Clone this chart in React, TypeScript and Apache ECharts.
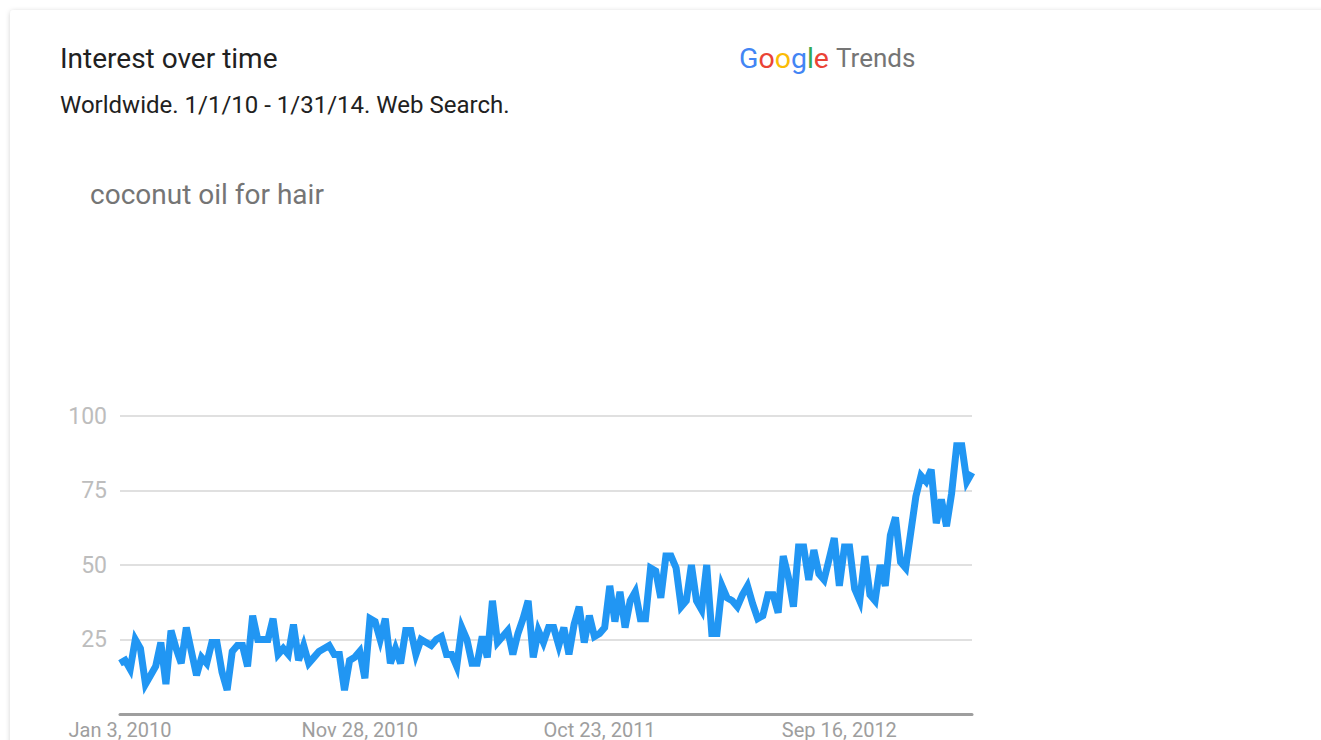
import React, { useEffect, useRef } from "react";
import * as echarts from "echarts";

// Weekly series start (first category) and the axis tick labels shown
const firstWeek = "2010-01-03";
const xTickLabels = ["Jan 3, 2010", "Nov 28, 2010", "Oct 23, 2011", "Sep 16, 2012"];
const yTickValues = [25, 50, 75, 100];

// Interest over time, weekly values
const interest2010 = [
  17, 18, 15, 25, 22, 10, 13, 16, 24, 10,
  28, 22, 17, 29, 21, 13, 19, 17, 24, 24,
  14, 8, 21, 23, 23, 16, 33, 25, 25, 25,
  32, 20, 22, 20, 30, 18, 23, 17, 19, 21,
  22, 23, 20, 20, 8, 18, 19, 21, 12, 32,
];
const interest2011 = [
  31, 25, 32, 17, 22, 17, 28, 28, 20, 25,
  24, 23, 25, 26, 20, 20, 16, 29, 25, 17,
  17, 26, 19, 38, 24, 26, 28, 20, 27, 32,
  38, 19, 28, 24, 29, 29, 23, 29, 20, 30,
  36, 24, 33, 26, 27, 29, 43, 31, 41, 29,
];
const interest2012 = [
  38, 41, 32, 32, 49, 48, 39, 53, 53, 49,
  36, 38, 50, 38, 35, 50, 27, 27, 43, 39,
  38, 36, 40, 43, 37, 32, 33, 40, 40, 34,
  53, 46, 36, 56, 56, 45, 55, 47, 45, 52,
  59, 43, 56, 56, 42, 38, 53, 40, 38, 50,
];
const interest2013 = [
  43, 60, 66, 51, 49, 61, 73, 80, 78, 82,
  64, 72, 63, 74, 90, 90, 78, 81,
];

const interest = [...interest2010, ...interest2011, ...interest2012, ...interest2013];

const MONTHS = ["Jan", "Feb", "Mar", "Apr", "May", "Jun", "Jul", "Aug", "Sep", "Oct", "Nov", "Dec"];
function weekName(i: number): string {
  const d = new Date(firstWeek + "T00:00:00Z");
  d.setUTCDate(d.getUTCDate() + 7 * i);
  return `${MONTHS[d.getUTCMonth()]} ${d.getUTCDate()}, ${d.getUTCFullYear()}`;
}
const weeks = interest.map((_, i) => weekName(i));

export default function App() {
  const ref = useRef<HTMLDivElement>(null);
  useEffect(() => {
    if (!ref.current) return;
    const chart = echarts.init(ref.current, undefined, { renderer: "svg" });
    const font = "Roboto";
    chart.setOption({
      animation: false,
      backgroundColor: "#ffffff",
      textStyle: { fontFamily: font },
      graphic: [
        {
          type: "rect",
          z: -100,
          silent: true,
          shape: { x: 10, y: 10, width: 1400, height: 800, r: 4 },
          style: { fill: "#ffffff", shadowBlur: 5, shadowColor: "rgba(0,0,0,0.18)", shadowOffsetY: 1 },
        },
        {
          type: "text",
          x: 60,
          y: 58,
          style: {
            text: "Interest over time",
            fontSize: 28,
            fontFamily: font,
            fill: "#212121",
            verticalAlign: "middle",
            textVerticalAlign: "middle",
          },
        },
        {
          type: "text",
          x: 60,
          y: 105,
          style: {
            text: "Worldwide. 1/1/10 - 1/31/14. Web Search.",
            fontSize: 24,
            fontFamily: font,
            fill: "#212121",
            verticalAlign: "middle",
            textVerticalAlign: "middle",
          },
        },
        {
          type: "text",
          x: 90,
          y: 194,
          style: {
            text: "coconut oil for hair",
            fontSize: 28,
            fontFamily: font,
            fill: "#757575",
            verticalAlign: "middle",
            textVerticalAlign: "middle",
          },
        },
        {
          type: "text",
          x: 739,
          y: 58,
          style: {
            text: "{b|G}{r|o}{y|o}{b|g}{g|l}{r|e}",
            fontSize: 28,
            fontFamily: font,
            verticalAlign: "middle",
            textVerticalAlign: "middle",
            rich: {
              b: { fill: "#4285F4", color: "#4285F4", fontSize: 28.5, fontFamily: font },
              r: { fill: "#EA4335", color: "#EA4335", fontSize: 28.5, fontFamily: font },
              y: { fill: "#FBBC05", color: "#FBBC05", fontSize: 28.5, fontFamily: font },
              g: { fill: "#34A853", color: "#34A853", fontSize: 28.5, fontFamily: font },
            },
          },
        },
        {
          type: "text",
          x: 836,
          y: 58,
          style: {
            text: "Trends",
            fontSize: 26,
            fontFamily: font,
            fill: "#757575",
            verticalAlign: "middle",
            textVerticalAlign: "middle",
          },
        },
      ],
      grid: { left: 120, right: 349, top: 416, bottom: 17.5, containLabel: false },
      xAxis: {
        type: "category",
        data: weeks,
        boundaryGap: false,
        axisLine: { show: true, lineStyle: { color: "#9e9e9e", width: 3 } },
        axisTick: { show: false },
        splitLine: { show: false },
        axisLabel: {
          interval: 46,
          color: "#9e9e9e",
          fontSize: 20,
          fontFamily: font,
          margin: 6,
          formatter: (v: string) => (xTickLabels.includes(v) ? v : ""),
        },
      },
      yAxis: {
        type: "value",
        min: 0,
        max: yTickValues[yTickValues.length - 1],
        interval: yTickValues[0],
        axisLine: { show: false },
        axisTick: { show: false },
        splitLine: { show: true, lineStyle: { color: "#e0e0e0", width: 2 } },
        axisLabel: {
          showMinLabel: false,
          color: "#bdbdbd",
          fontSize: 23,
          fontFamily: font,
          margin: 13,
        },
      },
      series: [
        {
          type: "line",
          name: "coconut oil for hair",
          data: interest,
          symbol: "none",
          clip: true,
          lineStyle: { color: "#2196f3", width: 7, join: "miter", miterLimit: 10 },
          itemStyle: { color: "#2196f3" },
        },
      ],
    });
    return () => chart.dispose();
  }, []);
  return (
    <div
      ref={ref}
      style={{ position: "absolute", left: 0, top: 0, width: 1321, height: 740 }}
    />
  );
}
